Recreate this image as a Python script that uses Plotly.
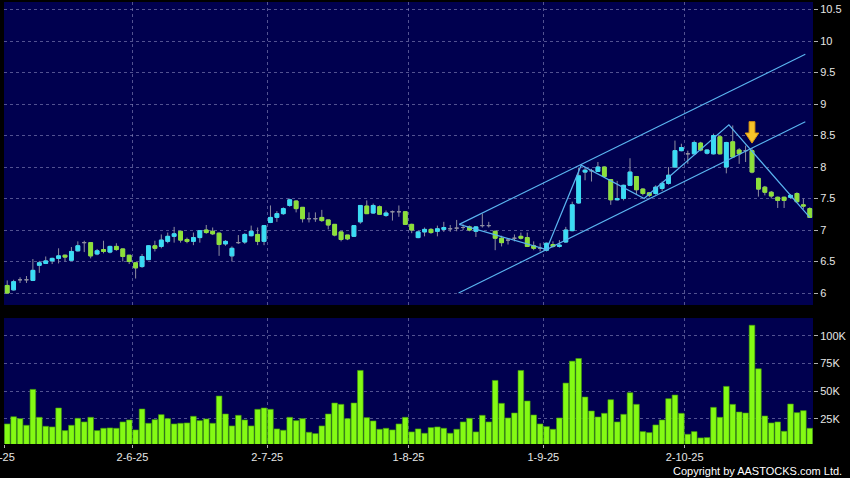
import plotly.graph_objects as go

# ---------------- data ----------------
OPEN = [6.12, 6.05, 6.21, 6.21, 6.20, 6.44, 6.47, 6.51, 6.55, 6.60,
        6.52, 6.67, 6.80, 6.80, 6.62, 6.69, 6.65, 6.74, 6.70, 6.60,
        6.48, 6.42, 6.53, 6.75, 6.74, 6.82, 6.90, 6.98, 6.85, 6.82,
        6.88, 7.00, 6.98, 6.95, 6.78, 6.59, 6.80, 6.81, 6.91, 6.93,
        6.82, 7.12, 7.20, 7.26, 7.39, 7.46, 7.36, 7.18, 7.18, 7.20,
        7.16, 7.09, 6.97, 6.92, 6.90, 7.13, 7.38, 7.27, 7.37, 7.23,
        7.29, 7.29, 7.29, 7.09, 6.88, 6.97, 7.01, 6.98, 7.01, 7.02,
        7.03, 7.04, 7.05, 6.98, 7.07, 7.07, 6.98, 6.87, 6.84, 6.87,
        6.90, 6.88, 6.75, 6.71, 6.68, 6.77, 6.74, 6.81, 6.99, 7.43,
        7.92, 7.94, 7.93, 8.00, 7.80, 7.48, 7.50, 7.71, 7.85, 7.65,
        7.59, 7.58, 7.66, 7.74, 8.00, 8.26, 8.21, 8.21, 8.38, 8.22,
        8.21, 8.48, 8.00, 8.40, 8.27, 8.26, 8.26, 7.82, 7.68, 7.60,
        7.52, 7.52, 7.52, 7.58, 7.40, 7.34]
HIGH = [6.20, 6.21, 6.25, 6.27, 6.54, 6.51, 6.58, 6.56, 6.71, 6.61,
        6.73, 6.82, 6.83, 6.80, 6.70, 6.83, 6.75, 6.79, 6.70, 6.60,
        6.48, 6.62, 6.76, 6.83, 6.93, 6.96, 7.05, 6.98, 6.88, 6.96,
        7.00, 7.08, 7.04, 6.96, 6.84, 6.74, 6.92, 6.95, 7.07, 7.04,
        7.08, 7.39, 7.30, 7.36, 7.50, 7.47, 7.36, 7.28, 7.28, 7.32,
        7.16, 7.09, 6.97, 6.92, 7.07, 7.39, 7.47, 7.42, 7.39, 7.31,
        7.31, 7.39, 7.29, 7.10, 6.99, 7.04, 7.03, 7.07, 7.13, 7.08,
        7.16, 7.09, 7.07, 7.06, 7.26, 7.13, 6.99, 6.91, 6.87, 6.93,
        6.96, 6.96, 6.82, 6.79, 6.80, 6.82, 6.84, 7.05, 7.45, 7.99,
        8.00, 7.97, 8.08, 8.01, 7.80, 7.78, 7.72, 8.14, 7.85, 7.66,
        7.60, 7.71, 7.77, 8.00, 8.42, 8.37, 8.26, 8.42, 8.40, 8.28,
        8.53, 8.50, 8.40, 8.66, 8.30, 8.34, 8.30, 7.83, 7.70, 7.62,
        7.53, 7.53, 7.57, 7.60, 7.50, 7.36]
LOW = [5.99, 6.04, 6.16, 6.16, 6.19, 6.32, 6.46, 6.46, 6.47, 6.50,
       6.51, 6.66, 6.65, 6.55, 6.60, 6.63, 6.63, 6.67, 6.50, 6.46,
       6.23, 6.40, 6.53, 6.66, 6.71, 6.79, 6.80, 6.80, 6.79, 6.76,
       6.80, 6.94, 6.92, 6.59, 6.75, 6.50, 6.78, 6.78, 6.90, 6.76,
       6.76, 7.11, 7.13, 7.24, 7.37, 7.28, 7.12, 7.12, 7.13, 7.13,
       7.01, 6.90, 6.82, 6.84, 6.90, 7.10, 7.26, 7.26, 7.24, 7.21,
       7.15, 7.21, 7.09, 6.95, 6.87, 6.90, 6.94, 6.90, 6.97, 6.97,
       6.98, 7.00, 6.98, 6.89, 7.04, 7.04, 6.68, 6.74, 6.77, 6.82,
       6.85, 6.73, 6.68, 6.66, 6.66, 6.72, 6.72, 6.80, 6.98, 7.42,
       7.79, 7.77, 7.93, 7.84, 7.40, 7.47, 7.47, 7.70, 7.56, 7.55,
       7.52, 7.56, 7.62, 7.72, 7.99, 8.25, 8.05, 8.20, 8.25, 8.20,
       8.20, 8.20, 7.90, 8.15, 8.05, 8.08, 7.90, 7.53, 7.55, 7.50,
       7.35, 7.35, 7.50, 7.44, 7.33, 7.19]
CLOSE = [6.00, 6.18, 6.21, 6.21, 6.36, 6.48, 6.51, 6.55, 6.59, 6.57,
         6.66, 6.75, 6.80, 6.59, 6.67, 6.66, 6.74, 6.69, 6.58, 6.50,
         6.40, 6.58, 6.75, 6.71, 6.84, 6.90, 6.94, 6.84, 6.82, 6.88,
         6.99, 6.96, 6.94, 6.77, 6.82, 6.71, 6.80, 6.93, 6.98, 6.82,
         7.07, 7.20, 7.26, 7.34, 7.48, 7.34, 7.18, 7.18, 7.18, 7.15,
         7.08, 6.92, 6.85, 6.86, 7.07, 7.39, 7.26, 7.39, 7.25, 7.27,
         7.29, 7.29, 7.09, 7.00, 6.97, 7.01, 6.96, 7.02, 7.04, 7.02,
         7.03, 7.04, 7.00, 7.05, 7.07, 7.07, 6.87, 6.80, 6.84, 6.87,
         6.87, 6.74, 6.71, 6.71, 6.79, 6.74, 6.76, 7.00, 7.40, 7.86,
         7.95, 7.94, 8.00, 7.85, 7.48, 7.50, 7.71, 7.92, 7.64, 7.58,
         7.55, 7.68, 7.74, 7.87, 8.26, 8.31, 8.21, 8.39, 8.27, 8.27,
         8.50, 8.21, 8.39, 8.16, 8.21, 8.26, 7.92, 7.65, 7.60, 7.54,
         7.47, 7.47, 7.55, 7.45, 7.38, 7.20]
VOLUME_K = [20.5, 27.0, 25.3, 19.3, 51.7, 26.5, 18.4, 17.8, 34.9, 14.5,
            19.3, 25.6, 22.3, 26.5, 14.5, 16.6, 16.9, 16.6, 22.3, 24.1,
            15.1, 34.0, 21.1, 24.4, 28.9, 25.3, 20.5, 21.1, 21.4, 27.4,
            23.5, 25.0, 21.1, 45.7, 29.5, 18.7, 28.3, 24.1, 18.7, 33.7,
            34.9, 33.7, 16.0, 14.8, 26.5, 23.5, 25.3, 13.0, 11.8, 18.7,
            29.5, 39.4, 38.2, 25.3, 39.4, 68.8, 26.2, 23.2, 15.7, 16.6,
            15.1, 20.5, 26.5, 13.3, 16.0, 12.1, 17.2, 17.8, 16.6, 12.1,
            15.7, 22.3, 25.6, 13.3, 28.3, 22.3, 59.8, 39.1, 25.9, 30.4,
            68.8, 41.2, 28.6, 20.5, 18.1, 15.7, 25.9, 57.4, 77.2, 79.6,
            44.8, 32.2, 26.8, 30.1, 42.4, 22.3, 29.2, 48.7, 38.2, 13.6,
            12.7, 19.6, 24.1, 43.3, 46.6, 30.1, 11.2, 13.6, 7.9, 8.2,
            35.5, 26.5, 54.4, 38.2, 31.3, 30.4, 109.6, 70.3, 27.7, 21.4,
            22.3, 13.9, 38.5, 30.7, 32.5, 16.6]

DATE_LABELS = ["2-5-25", "2-6-25", "2-7-25", "1-8-25", "1-9-25", "2-10-25"]
DATE_INDEX = [0, 20, 41, 63, 84, 106]

PRICE_TICKS = [6, 6.5, 7, 7.5, 8, 8.5, 9, 9.5, 10, 10.5]
PRICE_TICK_TEXT = ["6", "6.5", "7", "7.5", "8", "8.5", "9", "9.5", "10", "10.5"]
VOL_TICKS = [25, 50, 75, 100]
VOL_TICK_TEXT = ["25K", "50K", "75K", "100K"]

# drawn studies: (bar index, price)
UPPER_CHANNEL = [(70.4, 7.09), (124.3, 9.79)]
LOWER_CHANNEL = [(70.3, 6.00), (124.3, 8.72)]
ZIGZAG = [(70.4, 7.09), (84.0, 6.69), (89.4, 8.03), (99.2, 7.50),
          (112.4, 8.67), (125.0, 7.20)]
SIGNAL_ARROW = (116, 8.38)   # tip of the down arrow

# ---------------- style ----------------
UP = "#3adcf5"
DOWN = "#8ce03a"
WICK = "#8e8ea0"
VOLC = "#84fa14"
VOLL = "#3f9a0a"
LINEC = "#5ab4f0"
GRID = "rgba(150,150,200,0.55)"
NAVY = "#00004f"
TXT = "#e6e6e6"

n = len(OPEN)
xs = list(range(n))

# body trace (no wicks, dojis left to the wick trace)
bo, bh, bl, bc = [], [], [], []
for o, c in zip(OPEN, CLOSE):
    if abs(o - c) < 1e-9:
        bo.append(None); bh.append(None); bl.append(None); bc.append(None)
    else:
        bo.append(o); bc.append(c); bh.append(max(o, c)); bl.append(min(o, c))

fig = go.Figure()

fig.add_trace(go.Candlestick(
    x=xs, open=OPEN, high=HIGH, low=LOW, close=CLOSE,
    increasing=dict(line=dict(color=WICK, width=1), fillcolor="rgba(0,0,0,0)"),
    decreasing=dict(line=dict(color=WICK, width=1), fillcolor="rgba(0,0,0,0)"),
    whiskerwidth=0, showlegend=False, hoverinfo="skip", xaxis="x", yaxis="y"))

fig.add_trace(go.Candlestick(
    x=xs, open=bo, high=bh, low=bl, close=bc,
    increasing=dict(line=dict(color=UP, width=1), fillcolor=UP),
    decreasing=dict(line=dict(color=DOWN, width=1), fillcolor=DOWN),
    whiskerwidth=0, showlegend=False, hoverinfo="skip", xaxis="x", yaxis="y"))

for pts in (UPPER_CHANNEL, LOWER_CHANNEL, ZIGZAG):
    fig.add_trace(go.Scatter(x=[p[0] for p in pts], y=[p[1] for p in pts],
                             mode="lines", line=dict(color=LINEC, width=1.2),
                             showlegend=False, hoverinfo="skip",
                             xaxis="x", yaxis="y"))

# arrow polygon built around its tip
ax, ay = SIGNAL_ARROW
hw, sw, hh, sh = 1.05, 0.45, 0.16, 0.34
arrow_x = [ax, ax - hw, ax - sw, ax - sw, ax + sw, ax + sw, ax + hw, ax]
arrow_y = [ay, ay + hh, ay + hh, ay + sh, ay + sh, ay + hh, ay + hh, ay]
fig.add_trace(go.Scatter(x=arrow_x, y=arrow_y, mode="lines", fill="toself",
                         fillcolor="#f7c42a", line=dict(color="#e09a10", width=1),
                         showlegend=False, hoverinfo="skip", xaxis="x", yaxis="y"))

fig.add_trace(go.Bar(x=xs, y=VOLUME_K, marker=dict(color=VOLC, line=dict(color=VOLL, width=0.6)),
                     showlegend=False, hoverinfo="skip", xaxis="x2", yaxis="y2"))

grid_x = [i - 0.5 for i in DATE_INDEX]
axis_font = dict(family="Liberation Sans, Arial, sans-serif", size=11, color=TXT)

# first date sits on the left edge: shown as an edge label that runs off the page
edge_label = dict(text=DATE_LABELS[0], xref="x2", yref="paper", x=grid_x[0], y=-0.0294,
                  xanchor="center", yanchor="middle", xshift=-5, showarrow=False,
                  font=axis_font)

fig.update_layout(
    width=850, height=478,
    margin=dict(l=4, r=37, t=2, b=34, autoexpand=False),
    paper_bgcolor="black", plot_bgcolor=NAVY,
    bargap=0.12, boxgap=0.16,
    xaxis=dict(domain=[0, 1], range=[-0.5, n - 0.5], anchor="y",
               tickvals=grid_x, showticklabels=False, ticks="",
               showgrid=True, gridcolor=GRID, griddash="3px,3px", gridwidth=1,
               zeroline=False, showline=False, rangeslider=dict(visible=False)),
    yaxis=dict(domain=[0.3145, 1], range=[5.81, 10.62], side="right", anchor="x",
               tickvals=PRICE_TICKS, ticktext=PRICE_TICK_TEXT, tickfont=axis_font,
               ticks="outside", ticklen=4, tickcolor="#b0b0b0",
               showgrid=True, gridcolor=GRID, griddash="3px,3px", gridwidth=1,
               zeroline=False, showline=False),
    xaxis2=dict(domain=[0, 1], range=[-0.5, n - 0.5], anchor="y2", matches="x",
                tickvals=grid_x, ticktext=[""] + DATE_LABELS[1:], tickfont=axis_font,
                ticks="outside", ticklen=3, tickcolor="#b0b0b0",
                showgrid=True, gridcolor=GRID, griddash="3px,3px", gridwidth=1,
                zeroline=False, showline=False),
    yaxis2=dict(domain=[0, 0.285], range=[2.4, 116.1], side="right", anchor="x2",
                tickvals=VOL_TICKS, ticktext=VOL_TICK_TEXT, tickfont=axis_font,
                ticks="outside", ticklen=4, tickcolor="#b0b0b0",
                showgrid=True, gridcolor=GRID, griddash="3px,3px", gridwidth=1,
                zeroline=False, showline=False),
    annotations=[edge_label,
                 dict(text="Copyright by AASTOCKS.com Ltd.", xref="paper", yref="paper",
                      x=1.038, y=-0.062, xanchor="right", yanchor="middle", showarrow=False,
                      font=dict(family="Liberation Sans, Arial, sans-serif", size=11, color="white"))],
)

fig.write_html("out.html", config={"displayModeBar": False},
               post_script="document.body.style.margin='0px';document.body.style.overflow='hidden';")
